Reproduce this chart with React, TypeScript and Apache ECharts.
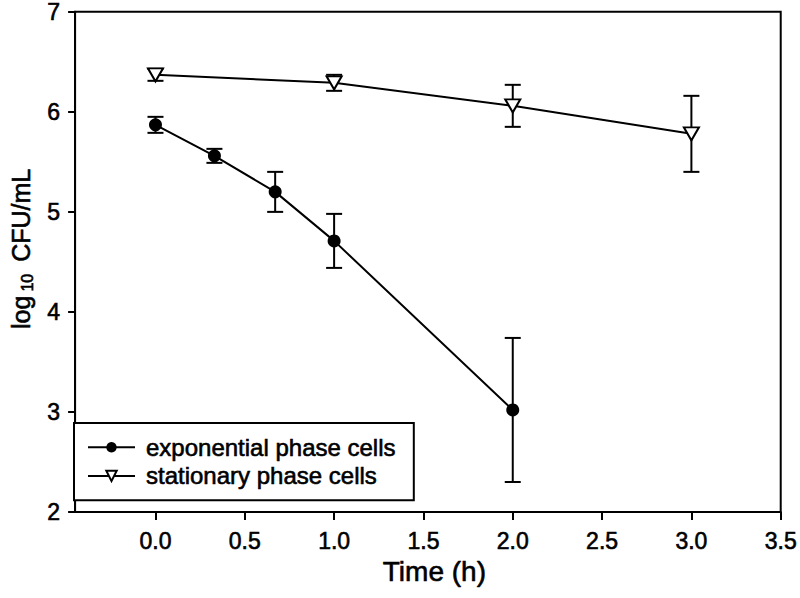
import React, { useEffect, useRef } from "react";
import * as echarts from "echarts";

const timeExp = [0, 0.33, 0.67, 1.0, 2.0];
const meanExp = [5.87, 5.56, 5.2, 4.71, 3.02];
const errExp = [0.08, 0.07, 0.2, 0.27, 0.72];

const timeStat = [0, 1.0, 2.0, 3.0];
const meanStat = [6.37, 6.29, 6.06, 5.78];
const errStat = [0.06, 0.08, 0.21, 0.38];

const xTicks = [0, 0.5, 1.0, 1.5, 2.0, 2.5, 3.0, 3.5];
const seriesNames = ["exponential phase cells", "stationary phase cells"];

const FONT = "'Liberation Sans', Arial, Helvetica, sans-serif";
const heavy = { textBorderColor: "#000", textBorderWidth: 0.6 };

export default function App() {
  const ref = useRef<HTMLDivElement>(null);
  useEffect(() => {
    document.body.style.margin = "0";
    const chart = echarts.init(ref.current!, null, { renderer: "svg" });

    const errData = (t: number[], m: number[], e: number[]) =>
      t.map((x, i) => [x, m[i] - e[i], m[i] + e[i]]);

    const errRender = (params: any, api: any) => {
      const x = api.value(0);
      const lo = api.coord([x, api.value(1)]);
      const hi = api.coord([x, api.value(2)]);
      const hw = 8;
      const style = { stroke: "#000", lineWidth: 2 };
      return {
        type: "group",
        children: [
          { type: "line", shape: { x1: lo[0], y1: lo[1], x2: hi[0], y2: hi[1] }, style },
          { type: "line", shape: { x1: lo[0] - hw, y1: lo[1], x2: lo[0] + hw, y2: lo[1] }, style },
          { type: "line", shape: { x1: hi[0] - hw, y1: hi[1], x2: hi[0] + hw, y2: hi[1] }, style },
        ],
      };
    };

    chart.setOption({
      animation: false,
      backgroundColor: "#fff",
      textStyle: { fontFamily: FONT, color: "#000" },
      grid: {
        left: 68,
        right: 15,
        top: 11,
        bottom: 86,
        show: true,
        borderColor: "#000",
        borderWidth: 2,
        backgroundColor: "transparent",
      },
      legend: {
        orient: "vertical",
        left: 74,
        top: 423,
        data: seriesNames,
        borderColor: "#000",
        borderWidth: 2,
        backgroundColor: "#fff",
        padding: [12, 18, 12, 13],
        itemWidth: 47,
        itemHeight: 13,
        itemGap: 4,
        textStyle: {
          fontFamily: FONT,
          fontSize: 24,
          color: "#000",
          lineHeight: 24,
          padding: [0, 0, 0, 6],
          ...heavy,
        },
      },
      xAxis: {
        type: "value",
        min: -0.45,
        max: 3.5,
        name: "Time (h)",
        nameLocation: "middle",
        nameGap: 44,
        nameTextStyle: {
          fontFamily: FONT,
          fontSize: 28,
          color: "#000",
          padding: [0, 0, 0, 13],
          ...heavy,
        },
        axisLine: { show: true, onZero: false, lineStyle: { color: "#000", width: 2 } },
        axisTick: {
          show: true,
          customValues: xTicks,
          length: 8,
          lineStyle: { color: "#000", width: 2 },
        },
        axisLabel: {
          customValues: xTicks,
          formatter: (v: number) => v.toFixed(1),
          fontFamily: FONT,
          fontSize: 23,
          color: "#000",
          margin: 17,
          ...heavy,
        },
        splitLine: { show: false },
      },
      yAxis: {
        type: "value",
        min: 2,
        max: 7,
        interval: 1,
        name: "{n|log}{s|10}{n| CFU/mL}",
        nameLocation: "middle",
        nameGap: 34,
        nameRotate: 90,
        nameTextStyle: {
          fontFamily: FONT,
          color: "#000",
          padding: [0, 0, 0, 26],
          rich: {
            n: { fontFamily: FONT, fontSize: 25, color: "#000", lineHeight: 30, ...heavy },
            s: {
              fontFamily: FONT,
              fontSize: 16,
              color: "#000",
              lineHeight: 30,
              verticalAlign: "bottom",
              padding: [10, 5, 0, 4],
              ...heavy,
            },
          },
        },
        axisLine: { show: true, onZero: false, lineStyle: { color: "#000", width: 2 } },
        axisTick: { show: true, length: 7, lineStyle: { color: "#000", width: 2 } },
        axisLabel: {
          fontFamily: FONT,
          fontSize: 23,
          color: "#000",
          margin: 15,
          ...heavy,
        },
        splitLine: { show: false },
      },
      series: [
        {
          type: "custom",
          name: "errExp",
          renderItem: errRender,
          data: errData(timeExp, meanExp, errExp),
          encode: { x: 0, y: [1, 2] },
          z: 1,
          silent: true,
        },
        {
          type: "custom",
          name: "errStat",
          renderItem: errRender,
          data: errData(timeStat, meanStat, errStat),
          encode: { x: 0, y: [1, 2] },
          z: 1,
          silent: true,
        },
        {
          type: "line",
          name: seriesNames[0],
          data: timeExp.map((t, i) => [t, meanExp[i]]),
          symbol: "circle",
          symbolSize: 13,
          itemStyle: { color: "#000" },
          lineStyle: { color: "#000", width: 2 },
          z: 3,
        },
        {
          type: "line",
          name: seriesNames[1],
          data: timeStat.map((t, i) => [t, meanStat[i]]),
          symbol: "emptyTriangle",
          symbolRotate: 180,
          symbolSize: [15, 13],
          itemStyle: { color: "#000" },
          lineStyle: { color: "#000", width: 2 },
          z: 3,
        },
      ],
    });
    return () => chart.dispose();
  }, []);
  return <div ref={ref} style={{ width: 800, height: 598 }} />;
}
